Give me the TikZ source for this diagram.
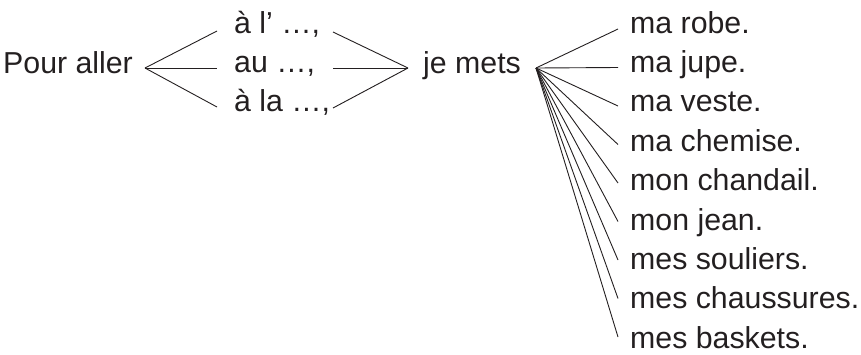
\documentclass[tikz,border=0pt]{standalone}
\usepackage{fontspec}
\setmainfont{Liberation Sans}
\definecolor{ink}{HTML}{231F20}
\begin{document}
\begin{tikzpicture}[x=1pt,y=-1pt,
  lbl/.style={font=\fontsize{30.3}{33}\selectfont, text=ink, inner sep=0pt, anchor=base west},
  conn/.style={draw=ink, line width=0.9pt}]
\useasboundingbox (0,0) rectangle (861,354);
% texts
\node[lbl] (pour) at (3,73) {Pour aller};
\node[lbl] (al)  at (234,33) {à l’ …,};
\node[lbl] (au)  at (234,72.7) {au …,};
\node[lbl] (ala) at (234,111.7) {à la …,};
\node[lbl] (je)  at (423,73) {je mets};
\foreach \t [count=\i from 0] in {ma robe., ma jupe., ma veste., ma chemise., mon chandail., mon jean., mes souliers., mes chaussures., mes baskets.}{
  \node[lbl] (r\i) at (630,{33+39.4*\i}) {\t};
  \coordinate (e\i) at (618,{29+38.5*\i});
}
% fork points
\coordinate (pA) at (145,68);
\coordinate (l0) at (217,31);
\coordinate (l1) at (217,68);
\coordinate (l2) at (217,107);
\coordinate (m0) at (333,32);
\coordinate (m1) at (333,68);
\coordinate (m2) at (333,108);
\coordinate (pB) at (408,68);
\coordinate (pC) at (536,68);
% connectors
\foreach \k in {0,1,2}{
  \draw[conn] (pA) -- (l\k);
  \draw[conn] (m\k) -- (pB);
}
\foreach \i in {0,...,8}{
  \draw[conn] (pC) -- (e\i);
}
\end{tikzpicture}
\end{document}
